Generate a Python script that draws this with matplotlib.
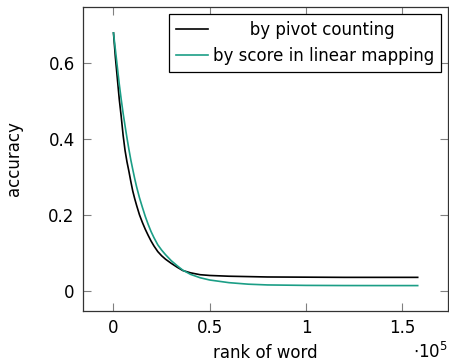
import matplotlib.pyplot as plt

# rank of word (in units of 1e5) and accuracy
rank = [0, 0.01, 0.02, 0.03, 0.04, 0.05, 0.06, 0.07, 0.08, 0.09, 0.10,
        0.11, 0.12, 0.135, 0.15, 0.165, 0.18, 0.195, 0.21, 0.23, 0.25,
        0.27, 0.30, 0.33, 0.36, 0.40, 0.45, 0.50, 0.60, 0.70, 0.80, 1.0,
        1.2, 1.4, 1.58]
acc_pivot = [0.68, 0.615, 0.56, 0.505, 0.46, 0.41, 0.37, 0.34, 0.315,
             0.288, 0.263, 0.243, 0.225, 0.200, 0.180, 0.162, 0.146, 0.131,
             0.118, 0.103, 0.092, 0.083, 0.072, 0.062, 0.053, 0.047, 0.042,
             0.040, 0.038, 0.037, 0.036, 0.0355, 0.035, 0.035, 0.035]
acc_score = [0.68, 0.635, 0.59, 0.545, 0.505, 0.468, 0.435, 0.403, 0.373,
             0.345, 0.320, 0.296, 0.274, 0.245, 0.220, 0.196, 0.175, 0.156,
             0.140, 0.121, 0.107, 0.095, 0.079, 0.066, 0.054, 0.043, 0.034,
             0.028, 0.021, 0.017, 0.015, 0.0138, 0.0134, 0.0133, 0.0133]

label_pivot = "by pivot counting"
label_score = "by score in linear mapping"

plt.rcParams["font.family"] = ["DejaVu Sans"]
plt.rcParams["font.size"] = 12

fig = plt.figure(figsize=(4.49, 3.63), dpi=100)
ax = fig.add_axes([0.185, 0.143, 0.813, 0.838])

# pgfplots centres legend text; pad the shorter label to mimic that
ax.plot(rank, acc_pivot, color="black", lw=1.2,
        label="       " + label_pivot)
ax.plot(rank, acc_score, color="#1b9e86", lw=1.2, label=label_score)

ax.set_xlim(-0.158, 1.738)
ax.set_ylim(-0.054, 0.7486)
ax.set_xticks([0, 0.5, 1, 1.5])
ax.set_xticklabels(["0", "0.5", "1", "1.5"])
ax.set_yticks([0, 0.2, 0.4, 0.6])
ax.set_yticklabels(["0", "0.2", "0.4", "0.6"])
ax.tick_params(direction="in", length=6, width=0.8, color="#808080",
               top=True, right=True, pad=6)
for s in ax.spines.values():
    s.set_color("#333333")
    s.set_linewidth(0.9)

ax.set_xlabel("rank of word", labelpad=5)
ax.set_ylabel("accuracy", labelpad=18)
fig.text(0.998, 0.014, r"$\cdot10^5$", ha="right", va="baseline", fontsize=12)

leg = ax.legend(loc="upper right", fancybox=False, framealpha=1,
                edgecolor="black", handlelength=1.9, handletextpad=0.3,
                labelspacing=0.45, borderpad=0.45, borderaxespad=0.4)
leg.get_frame().set_linewidth(0.9)

fig.savefig("out.png", dpi=100)
